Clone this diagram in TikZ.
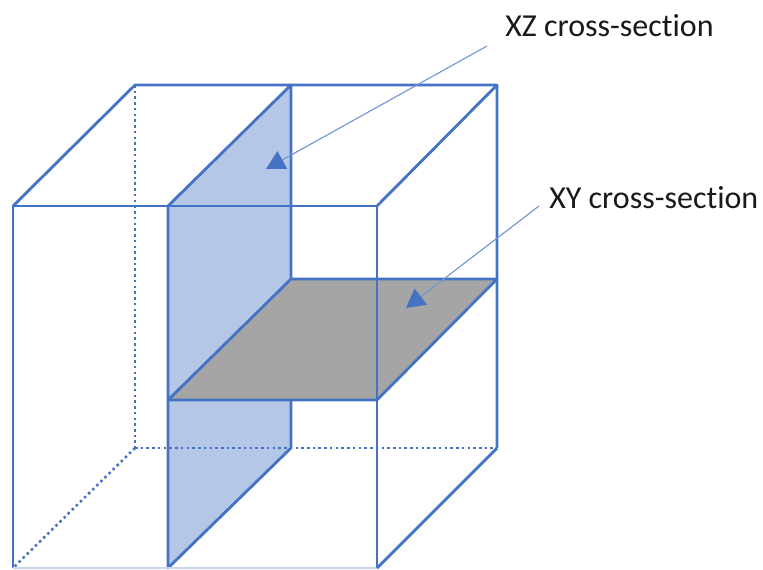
\documentclass[tikz,border=0pt]{standalone}
\usepackage{fontspec}
\setmainfont[Ligatures=NoCommon]{Carlito}
\usetikzlibrary{arrows.meta}
\definecolor{edge}{HTML}{4472C4}
\definecolor{planeblue}{HTML}{B4C7E7}
\definecolor{planegray}{HTML}{A5A5A5}
\tikzset{
  solidedge/.style={draw=edge,line width=2.1pt,line join=round},
  dottededge/.style={draw=edge,line width=1.9pt,dash pattern=on 1.9pt off 2.4pt},
  leader/.style={draw=edge!75,line width=0.85pt,-{Triangle[length=14pt,width=15pt,color=edge]}},
  caption/.style={font=\fontsize{24}{28}\selectfont,text=black!90,inner sep=0pt,anchor=west}
}
\begin{document}
\begin{tikzpicture}[x=0.75pt,y=-0.75pt]
\useasboundingbox (0,0) rectangle (763,569);
% front face
\coordinate (fa) at (13,206);
\coordinate (fb) at (377,206);
\coordinate (fc) at (377,568);
\coordinate (fd) at (13,568);
% back face
\coordinate (ba) at (135,85);
\coordinate (bb) at (497,85);
\coordinate (bc) at (497,448);
\coordinate (bd) at (135,448);
% XZ plane
\coordinate (za) at (168,206);
\coordinate (zb) at (291,85);
\coordinate (zc) at (291,448);
\coordinate (zd) at (168,568);
% XY plane
\coordinate (ya) at (168,400);
\coordinate (yb) at (291,279);
\coordinate (yc) at (497,279);
\coordinate (yd) at (377,400);
% label anchors
\coordinate (zstart) at (487,46);
\coordinate (zend) at (266,169);
\coordinate (ystart) at (539,206);
\coordinate (yend) at (406,308);

\fill[planeblue] (za) -- (zb) -- (zc) -- (zd) -- cycle;
\draw[dottededge] (ba) -- (bd);
\draw[dottededge] (bd) -- (fd);
\draw[dottededge] (bd) -- (bc);
\draw[solidedge] (za) -- (zb) -- (zc) -- (zd) -- cycle;
\draw[solidedge,fill=planegray] (ya) -- (yb) -- (yc) -- (yd) -- cycle;
\draw[solidedge] (fd) -- (fa) -- (fb) -- (fc);
\draw[draw=edge!30,line width=1.2pt] (fd) -- (fc);
\draw[solidedge] (fa) -- (ba) -- (bb) -- (bc);
\draw[solidedge] (fb) -- (bb);
\draw[solidedge] (bc) -- (fc);
\node[caption] (xz) at (505,26) {XZ cross-section};
\node[caption] (xy) at (549,198) {XY cross-section};
\draw[leader] (zstart) -- (zend);
\draw[leader] (ystart) -- (yend);
\end{tikzpicture}
\end{document}
